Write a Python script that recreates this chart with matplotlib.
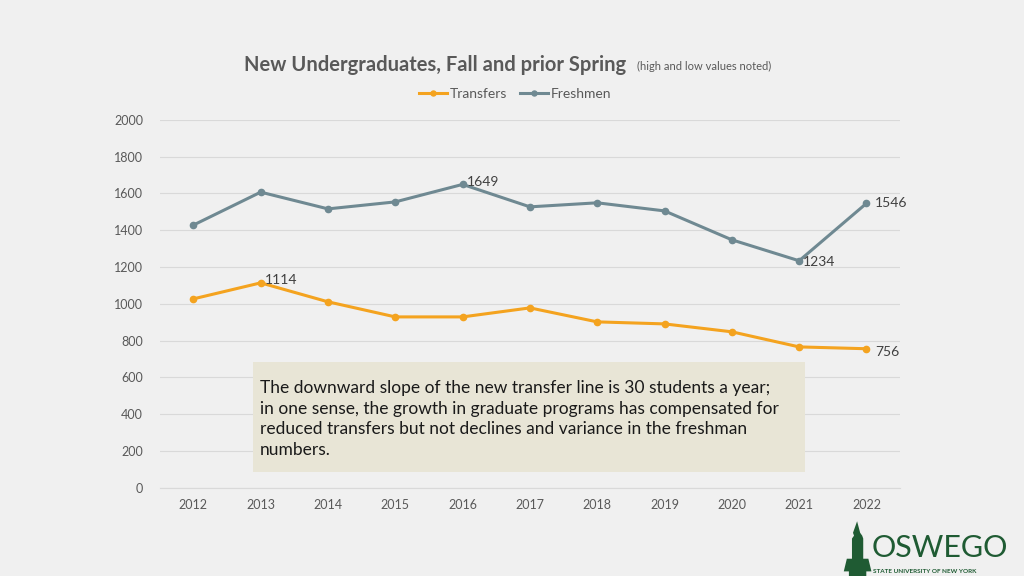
import matplotlib.pyplot as plt
from matplotlib.patches import Rectangle, Polygon

years = [2012, 2013, 2014, 2015, 2016, 2017, 2018, 2019, 2020, 2021, 2022]
transfers = [1027, 1114, 1011, 929, 929, 978, 902, 891, 848, 766, 756]
freshmen = [1428, 1607, 1516, 1554, 1649, 1527, 1549, 1505, 1348, 1234, 1546]

# labelled points: (index, x offset, y offset)
notes_fr = [(4, 3, 2), (9, 3, -1), (10, 6, 0)]
notes_tr = [(1, 3, 2), (10, 6, -2)]

bg = "#f0f0f0"
c_tr = "#f4a31f"
c_fr = "#6f8992"
grey = "#595959"
green = "#1f5b33"

plt.rcParams['font.family'] = ['Lato', 'DejaVu Sans']

fig = plt.figure(figsize=(10.24, 5.76), dpi=100, facecolor=bg)
ax = fig.add_axes([0.156, 0.153, 0.723, 0.639], facecolor=bg)

x = list(range(len(years)))
ax.plot(x, transfers, color=c_tr, lw=2.2, marker='o', ms=4.5, label="Transfers")
ax.plot(x, freshmen, color=c_fr, lw=2.2, marker='o', ms=4.5, label="Freshmen")

for i, dx, dy in notes_fr:
    ax.annotate(str(freshmen[i]), (x[i], freshmen[i]), xytext=(dx, dy),
                textcoords='offset points', ha='left', va='center',
                fontsize=10, color="#404040")
for i, dx, dy in notes_tr:
    ax.annotate(str(transfers[i]), (x[i], transfers[i]), xytext=(dx, dy),
                textcoords='offset points', ha='left', va='center',
                fontsize=10, color="#404040")

ax.set_xlim(-0.5, len(years) - 0.5)
ax.set_ylim(0, 2000)
ax.set_yticks(range(0, 2001, 200))
ax.set_xticks(x)
ax.set_xticklabels([str(y) for y in years])
ax.yaxis.grid(True, color="#d9d9d9", lw=0.8)
ax.set_axisbelow(True)
for s in ax.spines.values():
    s.set_visible(False)
ax.spines['bottom'].set_visible(True)
ax.spines['bottom'].set_color("#d9d9d9")
ax.tick_params(length=0, colors=grey, labelsize=9)
ax.tick_params(axis='y', pad=12)
ax.tick_params(axis='x', pad=8)

fig.text(0.238, 0.888, "New Undergraduates, Fall and prior Spring", fontsize=14.5,
         fontweight='bold', color=grey, va='center')
fig.text(0.622, 0.885, "(high and low values noted)", fontsize=8, color=grey,
         va='center')

h, l = ax.get_legend_handles_labels()
fig.legend(h, l, loc='center', bbox_to_anchor=(0.503, 0.837), ncol=2, frameon=False,
           fontsize=10, labelcolor=grey, handlelength=2.0, columnspacing=0.9,
           handletextpad=0.2, markerscale=0.8)

# annotation box
fig.patches.append(Rectangle((0.247, 0.181), 0.539, 0.191, transform=fig.transFigure,
                             facecolor="#e8e5d6", edgecolor='none', zorder=3))
fig.text(0.254, 0.21,
         "The downward slope of the new transfer line is 30 students a year;\n"
         "in one sense, the growth in graduate programs has compensated for\n"
         "reduced transfers but not declines and variance in the freshman\n"
         "numbers.",
         fontsize=12.5, color="#1a1a1a", linespacing=1.35, zorder=4)

# logo: rough clock tower + text
tower = [(0.829, 0.0), (0.829, 0.008), (0.824, 0.008), (0.827, 0.03),
         (0.832, 0.03), (0.832, 0.065), (0.834, 0.07), (0.833, 0.075),
         (0.837, 0.095), (0.840, 0.075), (0.842, 0.07), (0.843, 0.065),
         (0.843, 0.03), (0.848, 0.03), (0.851, 0.008), (0.846, 0.008),
         (0.846, 0.0)]
fig.patches.append(Polygon(tower, closed=True, transform=fig.transFigure,
                           facecolor=green, edgecolor='none', zorder=4))
fig.text(0.851, 0.048, "OSWEGO", fontsize=22, color=green, zorder=4, va='center')
fig.text(0.853, 0.006, "STATE UNIVERSITY OF NEW YORK", fontsize=4.6,
         color=green, fontweight='bold', zorder=4)

fig.savefig("out.png", dpi=100, facecolor=bg)
